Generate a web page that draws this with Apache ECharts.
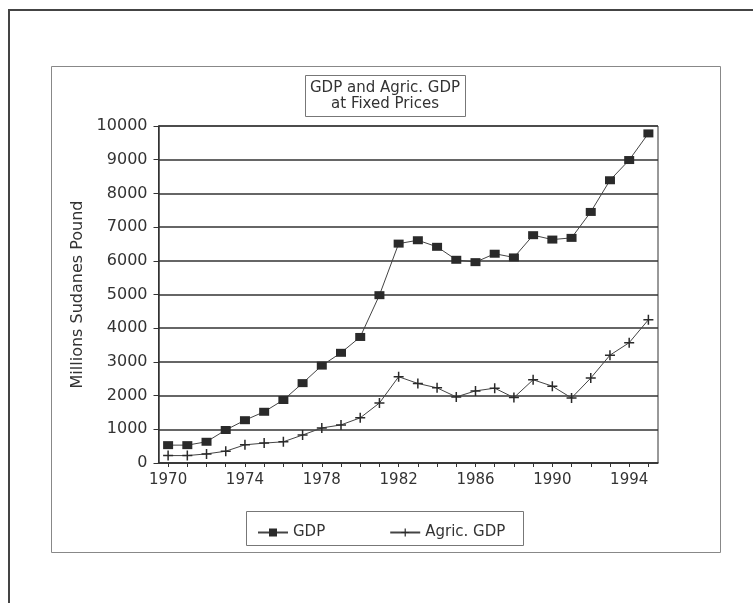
<!DOCTYPE html>
<html>
<head>
<meta charset="utf-8">
<script src="https://cdn.jsdelivr.net/npm/echarts@6/dist/echarts.min.js"></script>
<style>
  html, body { margin: 0; padding: 0; background: #fff; }
  #chart { width: 753px; height: 603px; }
</style>
</head>
<body>
<div id="chart"></div>
<script>
// Sudan: GDP and agricultural GDP at fixed prices, 1970-1995 (millions of Sudanese pounds)
const years = ['1970','1971','1972','1973','1974','1975','1976','1977','1978','1979',
               '1980','1981','1982','1983','1984','1985','1986','1987','1988','1989',
               '1990','1991','1992','1993','1994','1995'];
const gdp = [530, 530, 630, 980, 1270, 1520, 1870, 2370, 2890, 3270,
             3740, 4980, 6510, 6610, 6415, 6030, 5960, 6210, 6100, 6760,
             6630, 6680, 7450, 8390, 8990, 9780];
const agricGdp = [220, 220, 270, 350, 540, 590, 630, 830, 1040, 1130,
                  1340, 1780, 2560, 2360, 2230, 1960, 2140, 2220, 1940, 2470,
                  2280, 1930, 2520, 3200, 3570, 4250];
const yTicks = { min: 0, max: 10000, interval: 1000 };
const titleLines = ['GDP and Agric. GDP', 'at Fixed Prices'];
const yAxisTitle = 'Millions Sudanes Pound';

const font = 'DejaVu Sans';
const ink = '#333';
const plusPath = 'path://M3.4,0H4.6V3.4H8V4.6H4.6V8H3.4V4.6H0V3.4H3.4Z';

const chart = echarts.init(document.getElementById('chart'), null, { renderer: 'canvas' });

chart.setOption({
  backgroundColor: '#fff',
  animation: false,
  graphic: [
    // page frame (top and left edges)
    { type: 'polyline', silent: true, shape: { points: [[9, 603], [9, 10], [753, 10]] },
      style: { stroke: '#444', lineWidth: 2, fill: null } },
    // chart frame
    { type: 'rect', silent: true, shape: { x: 51.5, y: 66.5, width: 669, height: 486 },
      style: { stroke: '#888', lineWidth: 1, fill: null } },
    // title box
    { type: 'rect', silent: true, shape: { x: 305.5, y: 75.5, width: 160, height: 41 },
      style: { stroke: '#777', lineWidth: 1, fill: null } },
    // legend box
    { type: 'rect', silent: true, shape: { x: 246.5, y: 511.5, width: 277, height: 34 },
      style: { stroke: '#777', lineWidth: 1, fill: null } }
  ],
  title: {
    text: titleLines.join('\n'),
    left: 385,
    top: 80,
    padding: 0,
    textAlign: 'center',
    textStyle: { fontFamily: font, fontSize: 15, fontWeight: 'normal', color: ink, lineHeight: 16 }
  },
  legend: {
    data: ['GDP', 'Agric. GDP'],
    left: 252,
    top: 520,
    itemWidth: 30,
    itemHeight: 10,
    itemGap: 64,
    textStyle: { fontFamily: font, fontSize: 15, color: ink }
  },
  grid: {
    left: 158.5,
    right: 95,
    top: 126,
    bottom: 140,
    show: true,
    borderColor: '#333',
    borderWidth: 1,
    containLabel: false
  },
  xAxis: {
    type: 'category',
    data: years,
    boundaryGap: true,
    axisLine: { lineStyle: { color: '#333', width: 1.5 } },
    axisTick: { show: true, interval: 0, alignWithLabel: true, length: 4, lineStyle: { color: '#333' } },
    axisLabel: { interval: 3, margin: 10, fontFamily: font, fontSize: 15, color: ink },
    splitLine: { show: false }
  },
  yAxis: {
    type: 'value',
    min: yTicks.min,
    max: yTicks.max,
    interval: yTicks.interval,
    name: yAxisTitle,
    nameLocation: 'middle',
    nameRotate: 90,
    nameGap: 62,
    nameTextStyle: { fontFamily: font, fontSize: 16, color: ink },
    axisLine: { show: true, lineStyle: { color: '#333', width: 1.5 } },
    axisTick: { show: true, length: 5, lineStyle: { color: '#333' } },
    axisLabel: { margin: 11, fontFamily: font, fontSize: 16, color: ink,
                 formatter: v => String(v) },
    splitLine: { show: true, lineStyle: { color: '#333', width: 1.5 } }
  },
  series: [
    {
      name: 'GDP',
      type: 'line',
      data: gdp,
      symbol: 'rect',
      symbolSize: [10, 8],
      showAllSymbol: true,
      lineStyle: { color: '#444', width: 1 },
      itemStyle: { color: '#2a2a2a' }
    },
    {
      name: 'Agric. GDP',
      type: 'line',
      data: agricGdp,
      symbol: plusPath,
      symbolSize: 10,
      showAllSymbol: true,
      lineStyle: { color: '#444', width: 1 },
      itemStyle: { color: '#2a2a2a' }
    }
  ]
});
</script>
</body>
</html>
